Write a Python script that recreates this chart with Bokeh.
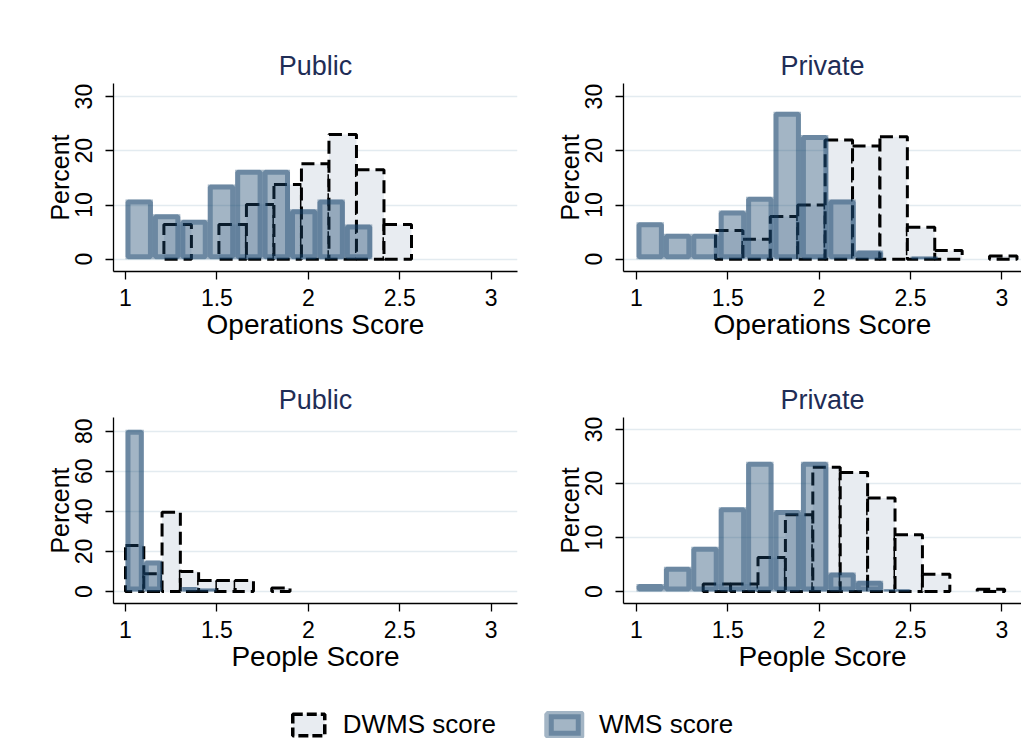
from bokeh.plotting import figure
from bokeh.models import Range1d, FixedTicker, Legend, LegendItem
from bokeh.layouts import column, row
from bokeh.embed import file_html
from bokeh.resources import INLINE

# ---------------- data (percent of hospitals per bin) ----------------
xticks = [1, 1.5, 2, 2.5, 3]
xtick_labels = ["1", "1.5", "2", "2.5", "3"]
yticks_30 = [0, 10, 20, 30]
yticks_80 = [0, 20, 40, 60, 80]

# Public hospitals, operations score
pub_ops_wms_start, pub_ops_wms_bw = 1.0, 0.15
pub_ops_wms = [11.0, 8.3, 7.3, 13.8, 16.5, 16.5, 9.2, 11.0, 6.4]
pub_ops_dwms_start, pub_ops_dwms_bw = 1.21, 0.1505
pub_ops_dwms = [6.4, 0.0, 6.4, 10.1, 13.8, 17.6, 23.0, 16.5, 6.4]

# Private hospitals, operations score
pri_ops_wms_start, pri_ops_wms_bw = 1.0, 0.15
pri_ops_wms = [6.8, 4.7, 4.7, 9.0, 11.5, 27.2, 22.9, 11.0, 1.6, 0.0, 0.5]
pri_ops_dwms_start, pri_ops_dwms_bw = 1.4325, 0.15
pri_ops_dwms = [5.3, 3.7, 7.9, 10.0, 22.0, 20.9, 22.6, 5.9, 1.6, 0.0, 0.6]

# Public hospitals, people score
pub_ppl_wms_start, pub_ppl_wms_bw = 1.0, 0.1
pub_ppl_wms = [80.7, 15.5, 0.0, 2.2, 1.5]
pub_ppl_dwms_start, pub_ppl_dwms_bw = 1.0, 0.1
pub_ppl_dwms = [23.0, 8.8, 39.6, 10.0, 5.5, 5.5, 5.5, 0.0, 1.8]

# Private hospitals, people score
pri_ppl_wms_start, pri_ppl_wms_bw = 1.0, 0.15
pri_ppl_wms = [1.4, 4.6, 8.3, 15.6, 24.0, 15.1, 24.0, 3.5, 2.0, 0.4]
pri_ppl_dwms_start, pri_ppl_dwms_bw = 1.365, 0.15
pri_ppl_dwms = [1.4, 1.4, 6.3, 14.2, 23.0, 22.0, 17.3, 10.5, 3.2, 0.0, 0.4]

# ---------------- style ----------------
FONT = "Liberation Sans"
NAVY = "#1a476f"
LIGHT = "#e8ecf1"
TITLE_COLOR = "#1f2d56"
GRID = "#e3ebf0"
OUTLINE_W = 5


def bins(start, bw, vals):
    left, right, top = [], [], []
    for i, v in enumerate(vals):
        if v <= 0:
            continue
        l = start + i * bw
        left.append(l)
        right.append(l + bw)
        top.append(v)
    return left, right, top


def panel(title, xlabel, x_rng, y_rng, yticks, wms, dwms, width, height, bl, br, bt, bb):
    p = figure(width=width, height=height, x_range=Range1d(*x_rng), y_range=Range1d(*y_rng),
               output_backend="svg", toolbar_location=None,
               min_border_left=bl, min_border_right=br, min_border_top=bt, min_border_bottom=bb,
               title=title, background_fill_color="white", border_fill_color="white",
               outline_line_color=None)
    fw = width - bl - br
    fh = height - bt - bb
    pxx = fw / (x_rng[1] - x_rng[0])
    pxy = fh / (y_rng[1] - y_rng[0])

    # DWMS (dashed outline, light fill)
    l, r, t = bins(*dwms)
    p.quad(left=l, right=r, top=t, bottom=[0] * len(t), fill_color=LIGHT, line_color="black",
           line_width=3, line_dash="13 6")

    # WMS (navy at 40% opacity, outline drawn inside the bar)
    l, r, t = bins(*wms)
    p.quad(left=l, right=r, top=t, bottom=[0] * len(t), fill_color=NAVY, fill_alpha=0.4,
           line_color=None)
    lw, il, ir, it, ib = [], [], [], [], []
    for a, b, c in zip(l, r, t):
        w = min(OUTLINE_W, (b - a) * pxx, c * pxy)
        dx = w / 2 / pxx
        dy = w / 2 / pxy
        lw.append(w)
        il.append(a + dx)
        ir.append(b - dx)
        it.append(c - dy)
        ib.append(dy)
    p.quad(left=il, right=ir, top=it, bottom=ib, fill_color=None, line_color=NAVY,
           line_alpha=0.4, line_width=lw)

    p.title.align = "center"
    p.title.text_font = FONT
    p.title.text_font_size = "27px"
    p.title.text_font_style = "normal"
    p.title.text_color = TITLE_COLOR
    p.title.standoff = 6

    p.xgrid.visible = False
    p.ygrid.ticker = FixedTicker(ticks=yticks)
    p.ygrid.grid_line_color = GRID
    p.ygrid.grid_line_width = 1.5

    p.xaxis.ticker = FixedTicker(ticks=xticks)
    p.xaxis.major_label_overrides = dict(zip(xticks, xtick_labels))
    p.yaxis.ticker = FixedTicker(ticks=yticks)
    p.yaxis.major_label_orientation = "vertical"
    p.xaxis.axis_label = xlabel
    p.yaxis.axis_label = "Percent"
    for ax in (p.xaxis, p.yaxis):
        ax.axis_line_color = "black"
        ax.axis_line_width = 1.3
        ax.major_tick_line_color = "black"
        ax.major_tick_line_width = 1.3
        ax.major_tick_out = 8
        ax.major_tick_in = 0
        ax.minor_tick_line_color = None
        ax.major_label_text_font = FONT
        ax.major_label_text_font_size = "23px"
        ax.major_label_text_color = "black"
        ax.axis_label_text_font = FONT
        ax.axis_label_text_font_style = "normal"
        ax.axis_label_text_color = "black"
    p.xaxis.axis_label_text_font_size = "28px"
    p.yaxis.axis_label_text_font_size = "25px"
    p.xaxis.major_label_standoff = 9
    p.xaxis.axis_label_standoff = 0
    p.yaxis.major_label_standoff = 13
    p.yaxis.axis_label_standoff = -1
    return p


LW, RW = 548, 473
TH, BH, LH = 343, 345, 54

p_tl = panel("Public", "Operations Score", (0.9343, 3.1445), (-2.27, 32.42), yticks_30,
             (pub_ops_wms_start, pub_ops_wms_bw, pub_ops_wms),
             (pub_ops_dwms_start, pub_ops_dwms_bw, pub_ops_dwms),
             LW, TH, 113, 31, 83, 72)
p_tr = panel("Private", "Operations Score", (0.9288, 3.1073), (-2.27, 32.42), yticks_30,
             (pri_ops_wms_start, pri_ops_wms_bw, pri_ops_wms),
             (pri_ops_dwms_start, pri_ops_dwms_bw, pri_ops_dwms),
             RW, TH, 75, 0, 83, 72)
p_bl = panel("Public", "People Score", (0.9343, 3.1445), (-5.99, 86.83), yticks_80,
             (pub_ppl_wms_start, pub_ppl_wms_bw, pub_ppl_wms),
             (pub_ppl_dwms_start, pub_ppl_dwms_bw, pub_ppl_dwms),
             LW, BH, 113, 31, 74, 85)
p_br = panel("Private", "People Score", (0.9288, 3.1073), (-2.22, 32.2), yticks_30,
             (pri_ppl_wms_start, pri_ppl_wms_bw, pri_ppl_wms),
             (pri_ppl_dwms_start, pri_ppl_dwms_bw, pri_ppl_dwms),
             RW, BH, 75, 0, 74, 85)

# ---------------- legend strip ----------------
lf = figure(width=LW + RW, height=LH, x_range=Range1d(0, 1), y_range=Range1d(0, 1),
            output_backend="svg", toolbar_location=None, min_border=0,
            outline_line_color=None, background_fill_color="white", border_fill_color="white")
lf.axis.visible = False
lf.grid.visible = False
# legend-key renderers (one off-screen sample each so that the key glyph is drawn)
key_l, key_r, key_t, key_b = [-3], [-2], [-2], [-3]
r_d = lf.quad(left=key_l, right=key_r, top=key_t, bottom=key_b, fill_color=LIGHT,
              line_color="black", line_width=3.5, line_dash="10 4")
r_w1 = lf.quad(left=key_l, right=key_r, top=key_t, bottom=key_b, fill_color=NAVY,
               fill_alpha=0.4, line_color=None)
r_w2 = lf.quad(left=key_l, right=key_r, top=key_t, bottom=key_b, fill_color=None,
               line_color=NAVY, line_alpha=0.4, line_width=10)
legend = Legend(items=[LegendItem(label="DWMS score", renderers=[r_d]),
                       LegendItem(label="WMS score", renderers=[r_w1, r_w2])],
                orientation="horizontal", location="bottom_center",
                glyph_width=40, glyph_height=27, label_standoff=15, spacing=48,
                padding=0, margin=2, border_line_color=None, background_fill_alpha=0,
                label_text_font=FONT, label_text_font_size="26px", label_text_color="black")
lf.add_layout(legend)

layout = column(row(p_tl, p_tr), row(p_bl, p_br), lf)

open("out.html", "w").write(file_html(layout, INLINE))
